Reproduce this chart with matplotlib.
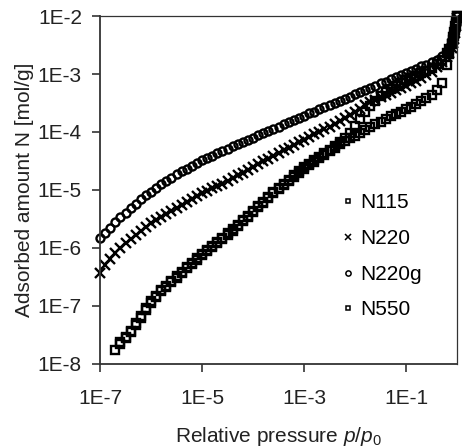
import numpy as np
import matplotlib
matplotlib.use('Agg')
import matplotlib.pyplot as plt

# ——— data (log10 values) ———
# N220g — open circles, top curve
logp_n220g = [-7.0, -6.9, -6.8, -6.7, -6.6, -6.5, -6.4, -6.3, -6.2, -6.1,
              -6.0, -5.9, -5.8, -5.7, -5.6, -5.5, -5.4, -5.3, -5.2, -5.1,
              -5.0, -4.9, -4.8, -4.7, -4.6, -4.5, -4.4, -4.3, -4.2, -4.1,
              -4.0, -3.9, -3.8, -3.7, -3.6, -3.5, -3.4, -3.3, -3.2, -3.1,
              -3.0, -2.9, -2.8, -2.7, -2.6, -2.5, -2.4, -2.3, -2.2, -2.1,
              -2.0, -1.9, -1.8, -1.7, -1.6, -1.5, -1.4, -1.3, -1.2, -1.1,
              -1.0, -0.9, -0.8, -0.7, -0.6, -0.5, -0.4, -0.3,
              -0.2, -0.15, -0.1, -0.07, -0.05, -0.03, -0.015, 0.0]
logn_n220g = [-5.83, -5.74, -5.65, -5.56, -5.47, -5.39, -5.31, -5.24, -5.16, -5.09,
              -5.03, -4.96, -4.90, -4.84, -4.79, -4.73, -4.68, -4.63, -4.58, -4.54,
              -4.49, -4.45, -4.41, -4.37, -4.33, -4.29, -4.25, -4.21, -4.17, -4.13,
              -4.10, -4.06, -4.02, -3.98, -3.95, -3.91, -3.87, -3.83, -3.80, -3.76,
              -3.72, -3.68, -3.65, -3.61, -3.57, -3.54, -3.50, -3.46, -3.43, -3.39,
              -3.35, -3.31, -3.27, -3.24, -3.20, -3.16, -3.13, -3.09, -3.05, -3.01,
              -2.98, -2.94, -2.91, -2.87, -2.84, -2.80, -2.75, -2.69,
              -2.61, -2.55, -2.47, -2.40, -2.33, -2.24, -2.14, -2.00]

# N220 — crosses, middle curve (same pressure steps as N220g)
logp_n220 = list(logp_n220g)
logn_n220 = [-6.43, -6.30, -6.19, -6.09, -6.00, -5.92, -5.84, -5.77, -5.70, -5.63,
             -5.57, -5.51, -5.46, -5.41, -5.36, -5.31, -5.26, -5.21, -5.16, -5.11,
             -5.06, -5.01, -4.97, -4.93, -4.89, -4.84, -4.79, -4.74, -4.70, -4.65,
             -4.60, -4.55, -4.50, -4.46, -4.41, -4.36, -4.31, -4.27, -4.22, -4.18,
             -4.13, -4.09, -4.04, -4.00, -3.95, -3.91, -3.86, -3.81, -3.76, -3.71,
             -3.66, -3.60, -3.54, -3.49, -3.44, -3.40, -3.36, -3.32, -3.28, -3.24,
             -3.20, -3.16, -3.12, -3.07, -3.02, -2.96, -2.88, -2.80,
             -2.70, -2.63, -2.55, -2.47, -2.40, -2.30, -2.18, -2.03]

# N550 — squares, lowest curve
logp_n550 = [-6.7, -6.6, -6.5, -6.4, -6.3, -6.2, -6.1,
             -6.0, -5.9, -5.8, -5.7, -5.6, -5.5, -5.4, -5.3, -5.2, -5.1,
             -5.0, -4.9, -4.8, -4.7, -4.6, -4.5, -4.4, -4.3, -4.2, -4.1,
             -4.0, -3.9, -3.8, -3.7, -3.6, -3.5, -3.4, -3.3, -3.2, -3.1,
             -3.0, -2.9, -2.8, -2.7, -2.6, -2.5, -2.4, -2.3, -2.2, -2.1,
             -2.0, -1.9, -1.8, -1.7, -1.6, -1.5, -1.4, -1.3, -1.2, -1.1,
             -1.0, -0.9, -0.8, -0.7, -0.6, -0.5, -0.4, -0.3,
             -0.2, -0.15, -0.1, -0.07, -0.05, -0.03, -0.015, 0.0]
logn_n550 = [-7.76, -7.66, -7.56, -7.45, -7.33, -7.20, -7.07,
             -6.95, -6.84, -6.75, -6.67, -6.59, -6.51, -6.43, -6.35, -6.28, -6.20,
             -6.12, -6.05, -5.98, -5.91, -5.84, -5.77, -5.70, -5.62, -5.54, -5.46,
             -5.38, -5.30, -5.22, -5.14, -5.06, -4.98, -4.91, -4.84, -4.77, -4.70,
             -4.63, -4.57, -4.51, -4.45, -4.39, -4.33, -4.27, -4.21, -4.15, -4.11,
             -4.07, -4.02, -3.97, -3.92, -3.87, -3.82, -3.77, -3.73, -3.69, -3.65,
             -3.61, -3.57, -3.52, -3.47, -3.42, -3.36, -3.28, -3.16,
             -2.85, -2.66, -2.48, -2.37, -2.28, -2.18, -2.09, -2.00]

# N115 — squares, follows N550 then bends up near p/p0 ~ 1E-2
logp_n115 = logp_n550[1:]
logn_n115 = [-7.62, -7.53, -7.43, -7.30, -7.17, -7.04,
             -6.92, -6.82, -6.73, -6.65, -6.57, -6.49, -6.41, -6.33, -6.26, -6.18,
             -6.10, -6.03, -5.96, -5.89, -5.82, -5.75, -5.68, -5.60, -5.52, -5.44,
             -5.36, -5.28, -5.20, -5.12, -5.04, -4.96, -4.89, -4.82, -4.75, -4.68,
             -4.61, -4.55, -4.49, -4.43, -4.37, -4.31, -4.25, -4.18, -4.10, -4.01,
             -3.90, -3.78, -3.66, -3.55, -3.46, -3.38, -3.31, -3.25, -3.20, -3.15,
             -3.11, -3.07, -3.03, -2.99, -2.95, -2.90, -2.83, -2.75,
             -2.64, -2.57, -2.48, -2.41, -2.34, -2.24, -2.13, -2.00]

x_ticks = [1e-7, 1e-5, 1e-3, 1e-1]
x_tick_labels = ['1E-7', '1E-5', '1E-3', '1E-1']
y_ticks = [1e-8, 1e-7, 1e-6, 1e-5, 1e-4, 1e-3, 1e-2]
y_tick_labels = ['1E-8', '1E-7', '1E-6', '1E-5', '1E-4', '1E-3', '1E-2']

# ——— style ———
FONT_SIZE = 15
plt.rcParams.update({
    'font.family': 'Liberation Sans',
    'font.size': FONT_SIZE,
    'mathtext.fontset': 'custom',
    'mathtext.rm': 'Liberation Sans',
    'mathtext.it': 'Liberation Sans:italic',
})
AXIS_COLOR = '#333333'
TEXT_COLOR = '#222222'

fig = plt.figure(figsize=(4.62, 4.47), dpi=100)
ax = fig.add_axes([0.2165, 0.1857, 0.7727, 0.7785])

mk = dict(linestyle='none', color='black', markerfacecolor='none', clip_on=False)
ax.plot(10 ** np.array(logp_n550), 10 ** np.array(logn_n550), marker='s',
        markersize=5.2, markeredgewidth=1.7, label='N550', **mk)
ax.plot(10 ** np.array(logp_n115), 10 ** np.array(logn_n115), marker='s',
        markersize=5.2, markeredgewidth=1.7, label='N115', **mk)
ax.plot(10 ** np.array(logp_n220), 10 ** np.array(logn_n220), marker='x',
        markersize=6.5, markeredgewidth=1.7, label='N220', **mk)
ax.plot(10 ** np.array(logp_n220g), 10 ** np.array(logn_n220g), marker='o',
        markersize=5.8, markeredgewidth=1.7, label='N220g', **mk)

ax.set_xscale('log')
ax.set_yscale('log')
ax.set_xlim(1e-7, 1)
ax.set_ylim(1e-8, 1e-2)
ax.set_xticks(x_ticks)
ax.set_xticklabels(x_tick_labels)
ax.set_yticks(y_ticks)
ax.set_yticklabels(y_tick_labels)
ax.minorticks_off()

for side in ['left', 'bottom']:
    ax.spines[side].set_linewidth(1.3)
    ax.spines[side].set_color(AXIS_COLOR)
for side in ['top', 'right']:
    ax.spines[side].set_linewidth(0.9)
    ax.spines[side].set_color(AXIS_COLOR)

ax.tick_params(axis='both', direction='out', length=6, width=1.2, colors=AXIS_COLOR,
               labelcolor=TEXT_COLOR, labelsize=FONT_SIZE)
ax.tick_params(axis='x', pad=12)
ax.tick_params(axis='y', pad=7)

ax.set_xlabel(r'Relative pressure $\it{p}/\it{p}_{\rm{0}}$', fontsize=FONT_SIZE,
              labelpad=12, color=TEXT_COLOR)
ax.set_ylabel('Adsorbed amount N [mol/g]', fontsize=FONT_SIZE, labelpad=3,
              color=TEXT_COLOR)

# legend in N115, N220, N220g, N550 order, no frame
handles, labels = ax.get_legend_handles_labels()
order = [labels.index(n) for n in ['N115', 'N220', 'N220g', 'N550']]
leg = ax.legend([handles[i] for i in order], [labels[i] for i in order],
                loc='center left', bbox_to_anchor=(0.65, 0.309), frameon=False,
                markerscale=0.65, handlelength=0.55, handletextpad=0.3,
                labelspacing=0.8, borderpad=0, fontsize=FONT_SIZE)
for h in leg.legend_handles:
    h.set_markeredgewidth(1.1)

fig.savefig('out.png', dpi=100, facecolor='white')
